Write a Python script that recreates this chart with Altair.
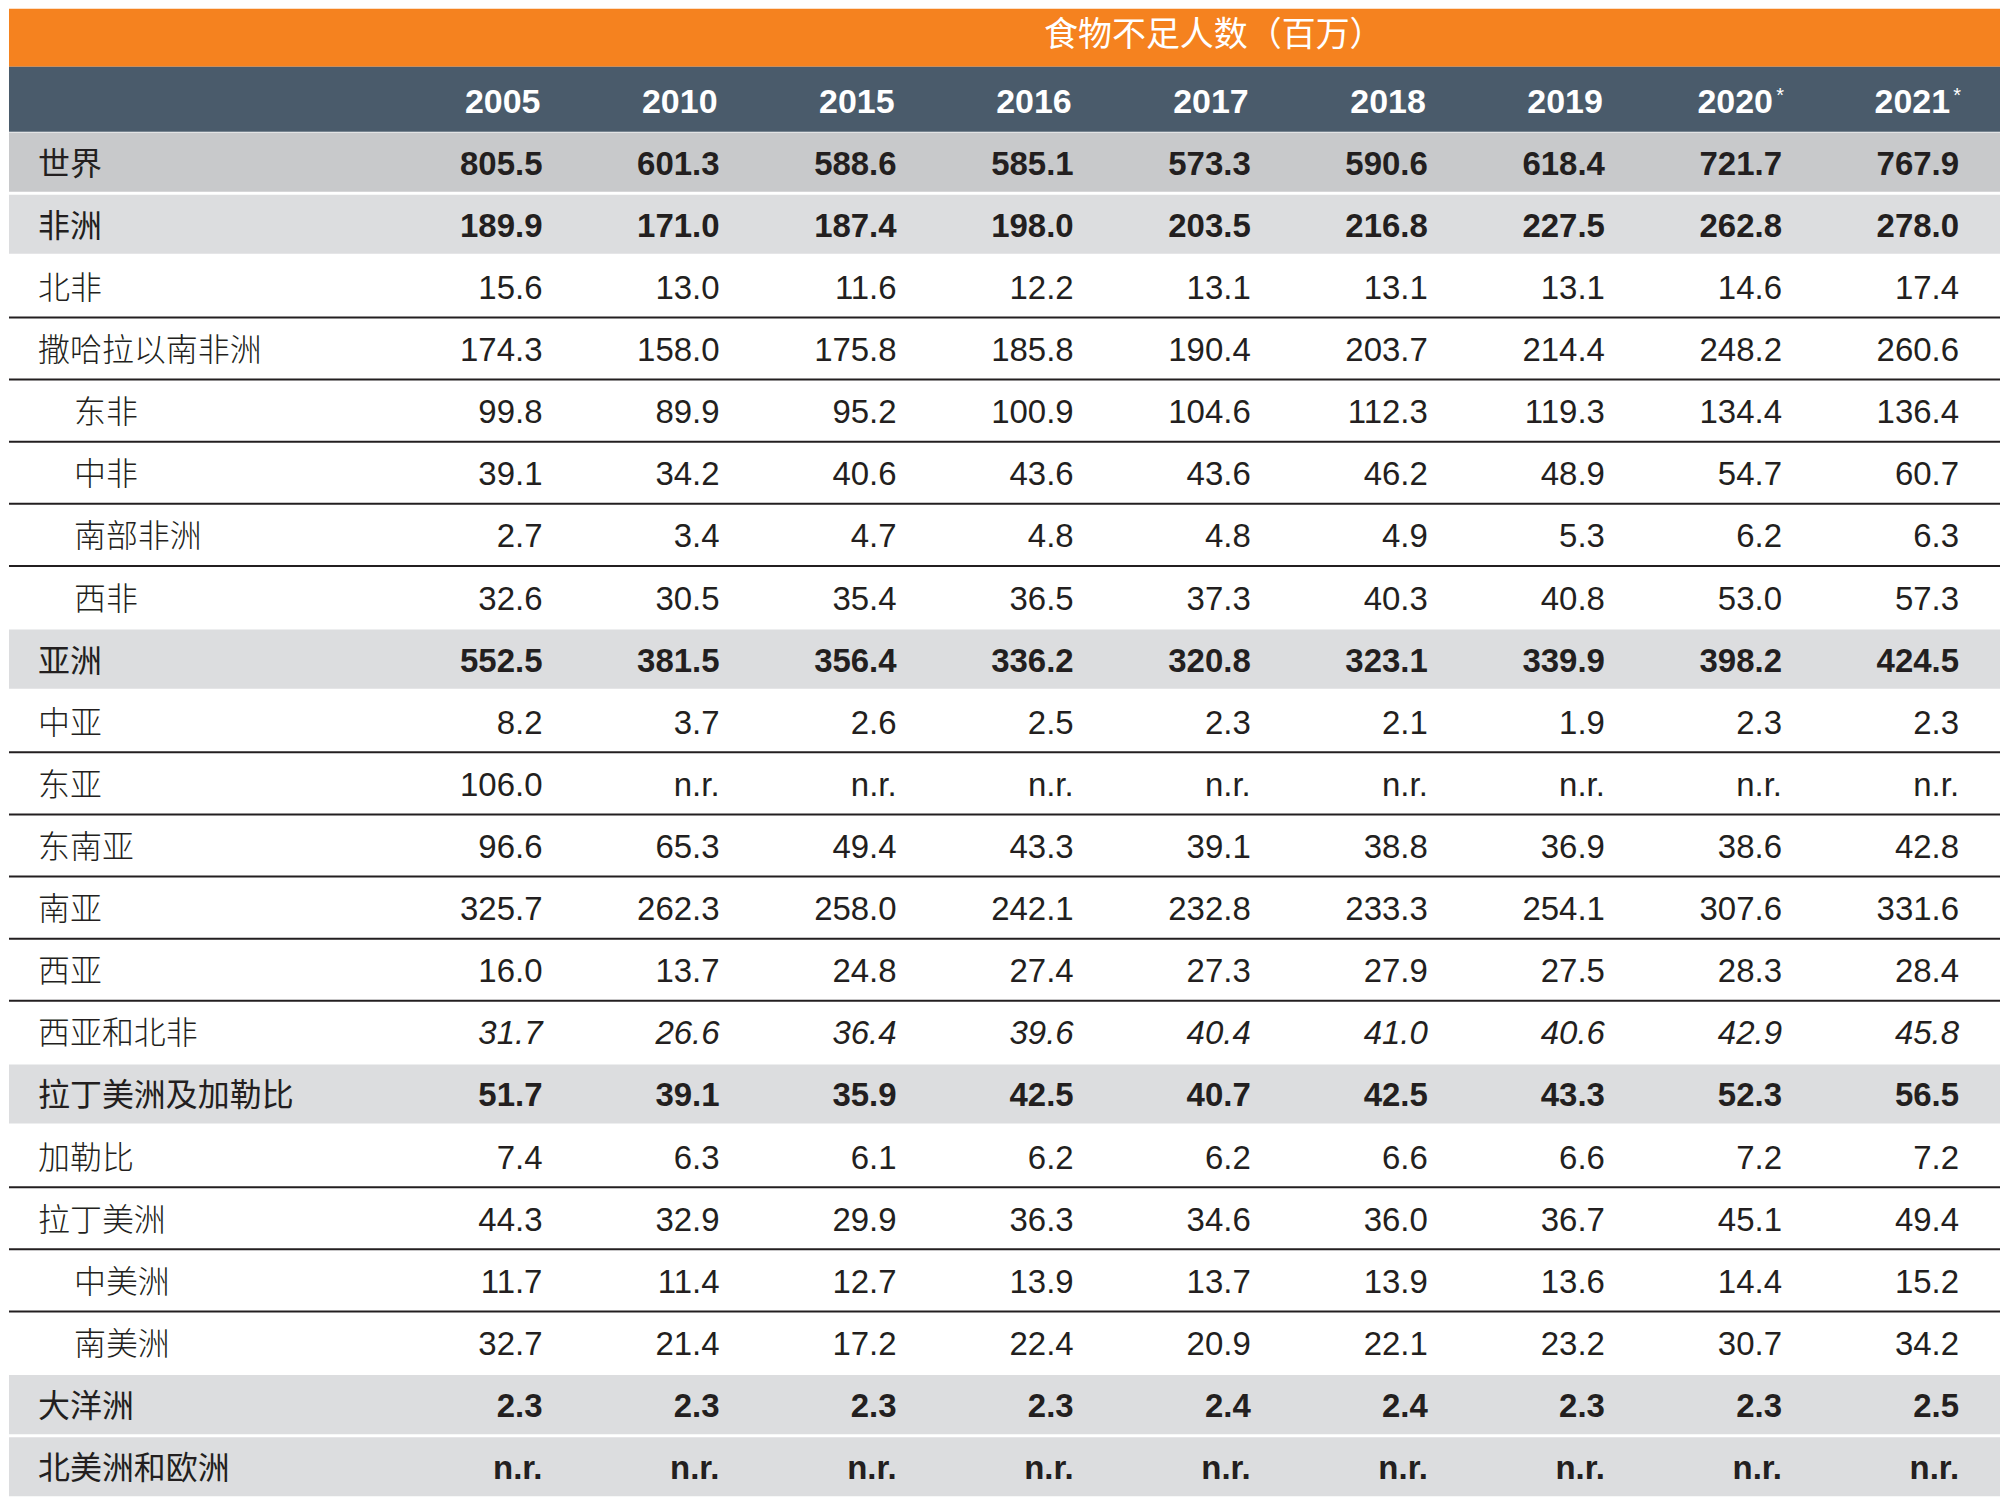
import altair as alt
import pandas as pd

# ---------------- data ----------------
title_text = "食物不足人数（百万）"
years = ["2005", "2010", "2015", "2016", "2017", "2018", "2019", "2020", "2021"]
starred = ["2020", "2021"]

regions = ["世界", "非洲", "北非", "撒哈拉以南非洲", "东非", "中非", "南部非洲", "西非",
           "亚洲", "中亚", "东亚", "东南亚", "南亚", "西亚", "西亚和北非",
           "拉丁美洲及加勒比", "加勒比", "拉丁美洲", "中美洲", "南美洲", "大洋洲", "北美洲和欧洲"]
kinds = ["total", "region", "sub", "sub", "indent", "indent", "indent", "indent",
         "region", "sub", "sub", "sub", "sub", "sub", "italic",
         "region", "sub", "sub", "indent", "indent", "region", "region"]

NR = None  # "n.r." = not reported
v2005 = [805.5, 189.9, 15.6, 174.3, 99.8, 39.1, 2.7, 32.6, 552.5, 8.2, 106.0, 96.6, 325.7, 16.0, 31.7, 51.7, 7.4, 44.3, 11.7, 32.7, 2.3, NR]
v2010 = [601.3, 171.0, 13.0, 158.0, 89.9, 34.2, 3.4, 30.5, 381.5, 3.7, NR, 65.3, 262.3, 13.7, 26.6, 39.1, 6.3, 32.9, 11.4, 21.4, 2.3, NR]
v2015 = [588.6, 187.4, 11.6, 175.8, 95.2, 40.6, 4.7, 35.4, 356.4, 2.6, NR, 49.4, 258.0, 24.8, 36.4, 35.9, 6.1, 29.9, 12.7, 17.2, 2.3, NR]
v2016 = [585.1, 198.0, 12.2, 185.8, 100.9, 43.6, 4.8, 36.5, 336.2, 2.5, NR, 43.3, 242.1, 27.4, 39.6, 42.5, 6.2, 36.3, 13.9, 22.4, 2.3, NR]
v2017 = [573.3, 203.5, 13.1, 190.4, 104.6, 43.6, 4.8, 37.3, 320.8, 2.3, NR, 39.1, 232.8, 27.3, 40.4, 40.7, 6.2, 34.6, 13.7, 20.9, 2.4, NR]
v2018 = [590.6, 216.8, 13.1, 203.7, 112.3, 46.2, 4.9, 40.3, 323.1, 2.1, NR, 38.8, 233.3, 27.9, 41.0, 42.5, 6.6, 36.0, 13.9, 22.1, 2.4, NR]
v2019 = [618.4, 227.5, 13.1, 214.4, 119.3, 48.9, 5.3, 40.8, 339.9, 1.9, NR, 36.9, 254.1, 27.5, 40.6, 43.3, 6.6, 36.7, 13.6, 23.2, 2.3, NR]
v2020 = [721.7, 262.8, 14.6, 248.2, 134.4, 54.7, 6.2, 53.0, 398.2, 2.3, NR, 38.6, 307.6, 28.3, 42.9, 52.3, 7.2, 45.1, 14.4, 30.7, 2.3, NR]
v2021 = [767.9, 278.0, 17.4, 260.6, 136.4, 60.7, 6.3, 57.3, 424.5, 2.3, NR, 42.8, 331.6, 28.4, 45.8, 56.5, 7.2, 49.4, 15.2, 34.2, 2.5, NR]
columns = [v2005, v2010, v2015, v2016, v2017, v2018, v2019, v2020, v2021]

# ---------------- styles ----------------
W = 1993
ORANGE = "#F5821F"
SLATE = "#4A5B6B"
DARK_GREY = "#C8C9CB"
LIGHT_GREY = "#DCDDDF"
INK = "#231F20"
NUMFONT = "Liberation Sans, Arial, sans-serif"
CJK = "Noto Sans CJK SC, sans-serif"

# ---------------- tables ----------------
records = []
for i, (r, k) in enumerate(zip(regions, kinds)):
    for y, col in zip(years, columns):
        records.append({"region": r, "kind": k, "year": y, "value": col[i]})
df = pd.DataFrame(records)

grey_kinds = ["total", "region"]
rowdf = pd.DataFrame({"region": regions, "kind": kinds})
nxt = kinds[1:] + ["total"]
rowdf["ruled"] = [(k not in grey_kinds) and (n not in grey_kinds) for k, n in zip(kinds, nxt)]

hdrdf = pd.DataFrame({"year": years,
                      "star": [y in starred for y in years],
                      "mark": ["*" if y in starred else "" for y in years]})

xs = alt.Scale(type="band", domain=years, range=[356.75, 1952], paddingInner=0, paddingOuter=0)
ys = alt.Scale(type="band", domain=regions, paddingInner=0, paddingOuter=0)

X_END = alt.X("year:N", scale=xs, axis=None, bandPosition=1)
Y_MID = alt.Y("region:N", scale=ys, axis=None, bandPosition=0.5)

# ---------------- title panel ----------------
title_panel = alt.Chart(pd.DataFrame({"t": [title_text]})).mark_text(
    font=CJK, fontSize=34, color="white", align="center", baseline="middle"
).encode(
    x=alt.value(1206), y=alt.value(27), text="t:N"
).properties(width=W, height=58, view=alt.ViewBackground(fill=ORANGE, stroke=None))

# ---------------- header panel ----------------
hdr = alt.Chart(hdrdf)
hdr_plain = hdr.transform_filter("!datum.star").mark_text(
    align="right", baseline="middle", font=NUMFONT, fontSize=34, fontWeight="bold",
    color="white", dx=-2
).encode(x=X_END, y=alt.value(36), text="year:N")
hdr_star = hdr.transform_filter("datum.star").mark_text(
    align="right", baseline="middle", font=NUMFONT, fontSize=34, fontWeight="bold",
    color="white", dx=-9
).encode(x=X_END, y=alt.value(36), text="year:N")
hdr_ast = hdr.transform_filter("datum.star").mark_text(
    align="right", baseline="alphabetic", font=NUMFONT, fontSize=20,
    color="white", dx=2
).encode(x=X_END, y=alt.value(35), text="mark:N")
header_panel = alt.layer(hdr_plain, hdr_star, hdr_ast).properties(
    width=W, height=65, view=alt.ViewBackground(fill=SLATE, stroke=None))

# ---------------- body panel ----------------
rows = alt.Chart(rowdf)
bg = rows.transform_filter(
    alt.FieldOneOfPredicate(field="kind", oneOf=grey_kinds)
).mark_rect(height=alt.RelativeBandSize(band=0.952), yOffset=-2.5).encode(
    y=Y_MID,
    x=alt.value(0), x2=alt.value("width"),
    color=alt.Color("kind:N", scale=alt.Scale(domain=grey_kinds, range=[DARK_GREY, LIGHT_GREY]),
                    legend=None),
)
rules = rows.transform_filter("datum.ruled").mark_rule(
    color=INK, strokeWidth=2, yOffset=-2.5
).encode(
    y=alt.Y("region:N", scale=ys, axis=None, bandPosition=1),
    x=alt.value(0), x2=alt.value("width"),
)

lab_common = dict(baseline="middle", align="left", font=CJK, fontSize=32, color=INK)
lab_main = rows.transform_filter(
    alt.FieldOneOfPredicate(field="kind", oneOf=["total", "region"])
).mark_text(fontWeight=400, **lab_common).encode(x=alt.value(29), y=Y_MID, text="region:N")
lab_sub = rows.transform_filter(
    alt.FieldOneOfPredicate(field="kind", oneOf=["sub", "italic"])
).mark_text(fontWeight=300, **lab_common).encode(x=alt.value(29), y=Y_MID, text="region:N")
lab_ind = rows.transform_filter(
    alt.FieldEqualPredicate(field="kind", equal="indent")
).mark_text(fontWeight=300, **lab_common).encode(x=alt.value(65), y=Y_MID, text="region:N")

vals = alt.Chart(df).transform_calculate(
    label="isValid(datum.value) ? format(datum.value, '.1f') : 'n.r.'"
)
num_common = dict(align="right", baseline="middle", font=NUMFONT, fontSize=33, color=INK)
num_bold = vals.transform_filter(
    alt.FieldOneOfPredicate(field="kind", oneOf=["total", "region"])
).mark_text(fontWeight="bold", **num_common).encode(x=X_END, y=Y_MID, text="label:N")
num_plain = vals.transform_filter(
    alt.FieldOneOfPredicate(field="kind", oneOf=["sub", "indent"])
).mark_text(**num_common).encode(x=X_END, y=Y_MID, text="label:N")
num_ital = vals.transform_filter(
    alt.FieldEqualPredicate(field="kind", equal="italic")
).mark_text(fontStyle="italic", **num_common).encode(x=X_END, y=Y_MID, text="label:N")

body_panel = alt.layer(bg, rules, lab_main, lab_sub, lab_ind, num_bold, num_plain, num_ital).properties(
    width=W, height=1368, view=alt.ViewBackground(fill="white", stroke=None))

chart = alt.vconcat(title_panel, header_panel, body_panel, spacing=0).properties(
    padding=0
).configure_view(stroke=None)

chart.save("out.html", embed_options={"renderer": "svg", "actions": False})
